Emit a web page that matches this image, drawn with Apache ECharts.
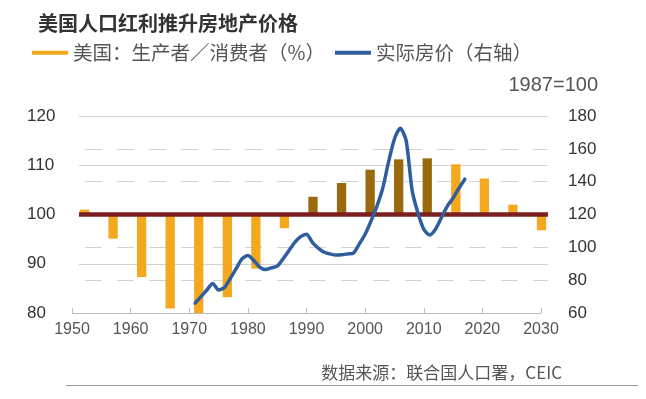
<!DOCTYPE html>
<html>
<head>
<meta charset="utf-8">
<script src="https://cdn.jsdelivr.net/npm/echarts@6/dist/echarts.min.js"></script>
<style>
  html, body { margin: 0; padding: 0; background: #fff; }
  #chart { width: 646px; height: 399px; }
</style>
</head>
<body>
<div id="chart"></div>
<script>
// ---------- data ----------
const chartTitle = '美国人口红利推升房地产价格';
const barName = '美国：生产者／消费者（%）';
const lineName = '实际房价（右轴）';
const indexNote = '1987=100';
const sourceNote = '数据来源：联合国人口署，CEIC';

const barYears = ['1950','1955','1960','1965','1970','1975','1980','1985','1990','1995','2000','2005','2010','2015','2020','2025','2030'];
const barValues = [101.0, 95.1, 87.3, 80.9, 80.0, 83.2, 89.0, 97.2, 103.6, 106.4, 109.1, 111.2, 111.4, 110.2, 107.3, 102.0, 96.8];

const priceYears = [1971,1972,1973,1974,1975,1976,1977,1978,1979,1980,1981,1982,1983,1984,1985,1986,1987,1988,1989,1990,1991,1992,1993,1994,1995,1996,1997,1998,1999,2000,2001,2002,2003,2004,2005,2006,2007,2008,2009,2010,2011,2012,2013,2014,2015,2016,2017];
const priceValues = [66, 70, 74, 78, 74, 75.5, 81, 87, 93, 95, 92, 88, 86.5, 87.5, 88.5, 93, 98, 103, 106.5, 108, 103, 99.5, 97, 96, 95.3, 95.5, 96, 96.5, 102, 108, 116, 125, 136, 152, 166, 172.5, 165, 135, 121, 111, 107.5, 111, 118, 125, 130, 136, 141.5];

const baseline = 100;
const leftAxis = { min: 80, max: 120, interval: 10 };
const rightAxis = { min: 60, max: 180, interval: 20 };
const xAxisRange = { min: 1950, max: 2030, interval: 10 };
const highlightFrom = 1990, highlightTo = 2010;

// ---------- styles ----------
const YELLOW = '#F4A81E';
const BROWN = '#9A6A0E';
const BLUE = '#2F5E9F';
const RED = '#7A1E1F';
const NUM_FONT = '"Liberation Sans", Arial, sans-serif';
const CJK_FONT = '"Noto Sans CJK SC", sans-serif';

const chart = echarts.init(document.getElementById('chart'), null, { renderer: 'canvas' });

const gridTop = 116, gridBottom = 86;

const option = {
  backgroundColor: '#fff',
  animation: false,
  title: [
    { text: chartTitle, left: 38, top: 13, padding: 0,
      textStyle: { fontFamily: CJK_FONT, fontSize: 20, fontWeight: 'bold', color: '#333' } },
    { text: indexNote, right: 48, top: 75, padding: 0,
      textStyle: { fontFamily: NUM_FONT, fontSize: 20, fontWeight: 'normal', color: '#555' } },
    { text: sourceNote, right: 84, top: 364, padding: 0,
      textStyle: { fontFamily: CJK_FONT, fontSize: 17, fontWeight: 'normal', color: '#555' } }
  ],
  legend: {
    left: 32, top: 43, padding: 0,
    itemWidth: 36, itemHeight: 4, itemGap: 10,
    icon: 'rect',
    textStyle: { fontFamily: CJK_FONT, fontSize: 19.5, color: '#555' },
    data: [
      { name: barName, itemStyle: { color: YELLOW } },
      { name: lineName, itemStyle: { color: BLUE }, lineStyle: { color: BLUE, width: 0 } }
    ]
  },
  grid: [
    { left: 79, right: 98, top: gridTop, bottom: gridBottom },      // gridlines + y labels
    { left: 84.5, right: 104.5, top: gridTop, bottom: gridBottom }, // bars
    { left: 72, right: 105, top: gridTop, bottom: gridBottom }      // x axis + price line
  ],
  xAxis: [
    { gridIndex: 0, type: 'value', min: 0, max: 1, show: false },
    { gridIndex: 1, type: 'category', data: barYears, boundaryGap: false, show: false },
    { gridIndex: 2, type: 'value', min: xAxisRange.min, max: xAxisRange.max, interval: xAxisRange.interval,
      axisLine: { show: true, lineStyle: { color: '#bdbdbd', width: 1 } },
      axisTick: { show: true, inside: true, length: 5, lineStyle: { color: '#bdbdbd' } },
      splitLine: { show: false },
      axisLabel: { fontFamily: NUM_FONT, fontSize: 16, color: '#555', margin: 9, formatter: v => String(v) } }
  ],
  yAxis: [
    { gridIndex: 0, type: 'value', position: 'left', min: leftAxis.min, max: leftAxis.max, interval: leftAxis.interval,
      axisLine: { show: false }, axisTick: { show: false },
      axisLabel: { align: 'left', margin: 52, fontFamily: NUM_FONT, fontSize: 17, color: '#333', padding: [4, 0, 0, 0] },
      splitLine: { show: true, showMinLine: false, lineStyle: { color: '#d3d3d3', width: 1 } } },
    { gridIndex: 0, type: 'value', position: 'right', min: rightAxis.min, max: rightAxis.max, interval: rightAxis.interval,
      axisLine: { show: false }, axisTick: { show: false },
      axisLabel: { align: 'left', margin: 20, fontFamily: NUM_FONT, fontSize: 17, color: '#333', padding: [4, 0, 0, 0] },
      splitLine: { show: true, showMinLine: false, showMaxLine: false,
        lineStyle: { color: '#d3d3d3', width: 1, type: [17, 15], dashOffset: 26 } } },
    { gridIndex: 1, type: 'value', min: leftAxis.min - baseline, max: leftAxis.max - baseline, show: false },
    { gridIndex: 2, type: 'value', min: rightAxis.min, max: rightAxis.max, show: false }
  ],
  series: [
    {
      name: barName, type: 'bar', xAxisIndex: 1, yAxisIndex: 2,
      data: barValues.map(v => v - baseline),
      barWidth: 9.3, clip: false, z: 2,
      itemStyle: {
        color: p => (+p.name >= highlightFrom && +p.name <= highlightTo) ? BROWN : YELLOW
      }
    },
    {
      name: 'baseline', type: 'line', xAxisIndex: 0, yAxisIndex: 0,
      data: [[0, baseline], [1, baseline]],
      symbol: 'none', silent: true, z: 3,
      lineStyle: { color: RED, width: 4.3, cap: 'butt' }
    },
    {
      name: lineName, type: 'line', xAxisIndex: 2, yAxisIndex: 3,
      data: priceYears.map((y, i) => [y, priceValues[i]]),
      symbol: 'none', smooth: 0.25, z: 4,
      itemStyle: { color: BLUE },
      lineStyle: { color: BLUE, width: 3.5, cap: 'round', join: 'round' }
    }
  ],
  graphic: [
    { type: 'line', shape: { x1: 66, y1: 385.5, x2: 638, y2: 385.5 },
      style: { stroke: '#999', lineWidth: 1 }, silent: true }
  ]
};

chart.setOption(option);
</script>
</body>
</html>
